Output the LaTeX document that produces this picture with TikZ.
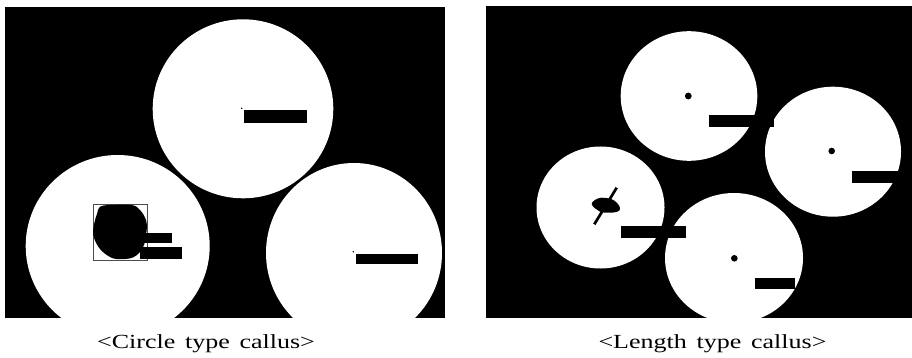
\documentclass[tikz,border=0pt]{standalone}
\usepackage{fontspec}
\setmainfont{Liberation Serif}[FakeStretch=1.3]
\newfontfamily\capfont{Liberation Serif}[FakeStretch=1.3, WordSpace=1.5]
\usetikzlibrary{positioning}

\begin{document}
\begin{tikzpicture}[x=1pt, y=-1pt,
  panel/.style={fill=black},
  callus/.style={fill=white},
  bar/.style={fill=black},
  dot/.style={fill=black},
  frame/.style={draw=black!70, line width=0.6pt},
  caption/.style={anchor=base, inner sep=0pt, font=\capfont\fontsize{20}{24}\selectfont}]
  \useasboundingbox (0,0) rectangle (912,358);
  % circle type
  \begin{scope}
    \clip (5,7.3) rectangle (445,318.3);
    \fill[panel] (5,7.3) rectangle (445,318.3);
    \fill[callus] (243,108.8) ellipse [x radius=90.3, y radius=89.5];
    \fill[callus] (117.7,246) ellipse [x radius=92, y radius=91];
    \fill[callus] (354,253) ellipse [x radius=88, y radius=90];
    \fill[bar] (244.3,110) rectangle (306.7,122.7);
    \fill[dot] (241.7,108.3) circle (0.8);
    \fill[bar] (355.7,253.7) rectangle (418.3,264.3);
    \fill[dot] (353.3,251.7) circle (0.8);
    \draw[frame] (93.3,204) rectangle (147.7,260);
    \fill[black] plot[smooth cycle, tension=0.6] coordinates {(100,206.7) (110,205) (131.7,205) (140,210)
      (146,220) (146.7,230) (143.3,246.7) (133.3,257.3) (116.7,259) (106.7,255) (98.3,246.7)
      (93.3,235) (94.3,223) (97.3,213)};
    \fill[bar] (140,232.7) rectangle (171.7,243.3);
    \fill[bar] (140,246.7) rectangle (181.7,258.7);
  \end{scope}
  % length type
  \begin{scope}
    \clip (486,6) rectangle (912,318.3);
    \fill[panel] (486,6) rectangle (912,318.3);
    \fill[callus] (689,96) ellipse [x radius=68.3, y radius=64.8];
    \fill[callus] (833,151.7) ellipse [x radius=68, y radius=65];
    \fill[callus] (600.5,207.5) ellipse [x radius=64, y radius=61];
    \fill[callus] (734,258) ellipse [x radius=69, y radius=65];
    \fill[dot] (688.3,96) circle (3.4);
    \fill[dot] (831.7,151) circle (3.3);
    \fill[dot] (734.3,258.3) circle (3.3);
    \fill[bar] (709.3,115.3) rectangle (774.3,127.3);
    \fill[bar] (852.3,170.7) rectangle (905,182.7);
    \fill[bar] (755,277.7) rectangle (795,289.3);
    \fill[bar] (620.7,226) rectangle (686,238);
    \fill[black] plot[smooth cycle, tension=0.7] coordinates {(595,200) (601.7,197.7) (611.7,199.3)
      (617.3,203.3) (620,208.3) (617.3,211.7) (608.3,212.7) (600,211.7) (595,208.3) (591.7,204)};
    \draw[black, line width=2.7pt] (616.7,187.7) -- (594.3,224.3);
  \end{scope}
  % captions
  \node[caption] (circlecap) at (206,348) {<Circle type callus>};
  \node[caption] (lengthcap) at (712.5,348) {<Length type callus>};
\end{tikzpicture}
\end{document}
